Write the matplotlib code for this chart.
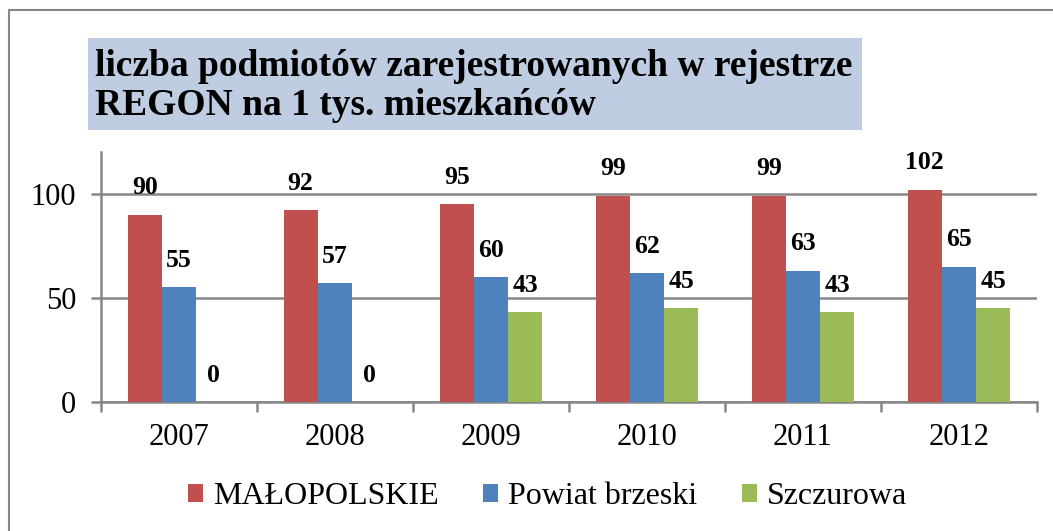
import numpy as np
import matplotlib
matplotlib.use('Agg')
import matplotlib.pyplot as plt
from matplotlib.patches import Rectangle, Patch

# dane
lata = ['2007', '2008', '2009', '2010', '2011', '2012']
malopolskie = [90, 92, 95, 99, 99, 102]
powiat = [55, 57, 60, 62, 63, 65]
szczurowa = [0, 0, 43, 45, 43, 45]
serie = ['MAŁOPOLSKIE', 'Powiat brzeski', 'Szczurowa']
kolory = ['#C0504D', '#4F81BD', '#9BBB59']
tytul = 'liczba podmiotów zarejestrowanych w rejestrze\nREGON na 1 tys. mieszkańców'

plt.rcParams['font.family'] = ['Liberation Serif', 'DejaVu Serif']
szary = '#868686'

fig = plt.figure(figsize=(10.53, 5.31), dpi=100)
ax = fig.add_axes([101 / 1053, 1 - 402 / 531, (1037 - 101) / 1053, (402 - 152) / 531])

# ramka wykresu
fig.patches.append(Rectangle((9 / 1053, -0.05), 1.2, 1 - 10 / 531 + 0.05,
                             transform=fig.transFigure, fill=False,
                             edgecolor=szary, linewidth=1.5))

x = np.arange(len(lata))
w = 0.22
for i, (vals, kol) in enumerate(zip([malopolskie, powiat, szczurowa], kolory)):
    pos = x + (i - 1) * w
    ax.bar(pos, vals, width=w, color=kol, zorder=3)
    for px, v in zip(pos, vals):
        ax.annotate(str(v), (px, v), xytext=(0, 11), textcoords='offset points',
                    ha='center', va='bottom', fontsize=18.5, fontweight='bold')

ax.set_xlim(-0.5, 5.5)
ax.set_ylim(0, 120)
ax.set_yticks([0, 50, 100])
ax.yaxis.grid(True, color=szary, linewidth=1.8, zorder=0)
ax.set_axisbelow(True)
ax.set_xticks(x)
ax.set_xticklabels(lata)
ax.set_xticks(np.arange(-0.5, 6, 1), minor=True)
ax.tick_params(axis='x', which='major', length=0, pad=15, labelsize=22)
ax.tick_params(axis='x', which='minor', length=7, width=1.8, color=szary, direction='out')
ax.tick_params(axis='y', length=7, width=1.8, color=szary, labelsize=22, pad=11)
for s in ['top', 'right']:
    ax.spines[s].set_visible(False)
for s in ['left', 'bottom']:
    ax.spines[s].set_color(szary)
    ax.spines[s].set_linewidth(1.8)

# tytul w niebieskim polu
fig.patches.append(Rectangle((88 / 1053, 1 - 130 / 531), (862 - 88) / 1053, (130 - 38) / 531,
                             transform=fig.transFigure, facecolor='#BFCDE3',
                             edgecolor='none'))
fig.text(95 / 1053, 1 - 86 / 531, tytul, ha='left', va='center', fontsize=27,
         fontweight='bold', linespacing=1.15)

uchwyty = [Patch(facecolor=k, edgecolor='none') for k in kolory]
fig.legend(uchwyty, serie, loc='center', bbox_to_anchor=(0.52, 1 - 497 / 531),
           ncol=3, frameon=False, fontsize=23, handlelength=0.47, handleheight=0.5,
           handletextpad=0.3, columnspacing=1.4)

fig.savefig('out.png', dpi=100)
